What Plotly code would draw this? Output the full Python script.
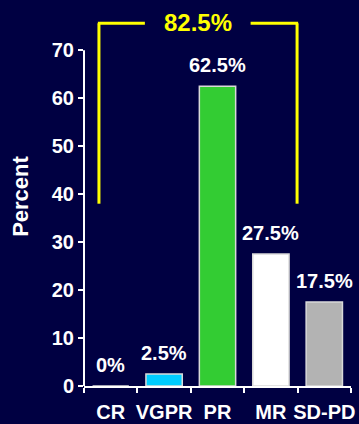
import plotly.graph_objects as go

# Response categories and share of patients (%)
categories = ["CR", "VGPR", "PR", "MR", "SD-PD"]
percent = [0, 2.5, 62.5, 27.5, 17.5]
bar_colors = ["#00CCFF", "#00CCFF", "#33CC33", "#FFFFFF", "#B3B3B3"]
y_ticks = [0, 10, 20, 30, 40, 50, 60, 70]
overall_label = "82.5%"

BG = "#000042"
WHITE = "#FFFFFF"
YELLOW = "#FFFF00"
FONT = "Liberation Sans, Arial, sans-serif"

fig = go.Figure(
    go.Bar(
        x=categories,
        y=percent,
        marker=dict(color=bar_colors, line=dict(color="#D9D9D9", width=1.5)),
        width=0.68,
        hoverinfo="skip",
    )
)

# value labels above each bar
for cat, val in zip(categories, percent):
    fig.add_annotation(
        x=cat, y=val, text=f"{val:g}%", showarrow=False,
        yanchor="bottom", yshift=8,
        font=dict(family=FONT, size=20, color=WHITE, weight="bold"),
    )

# y-axis line drawn only up to the top tick
fig.add_shape(type="line", xref="paper", yref="y", x0=0, x1=0,
              y0=0, y1=max(y_ticks), line=dict(color=WHITE, width=2))

# yellow bracket grouping the responders
br_left, br_right = -0.22, 3.49
br_bottom, br_top = 38, 75.6
gap_left, gap_right = 0.64, 2.62
bracket = dict(color=YELLOW, width=3)
fig.add_shape(type="line", xref="x", yref="y", x0=br_left, x1=br_left,
              y0=br_bottom, y1=br_top, line=bracket)
fig.add_shape(type="line", xref="x", yref="y", x0=br_right, x1=br_right,
              y0=br_bottom, y1=br_top, line=bracket)
fig.add_shape(type="line", xref="x", yref="y", x0=br_left - 0.02, x1=gap_left,
              y0=br_top, y1=br_top, line=bracket)
fig.add_shape(type="line", xref="x", yref="y", x0=gap_right, x1=br_right + 0.02,
              y0=br_top, y1=br_top, line=bracket)
fig.add_annotation(
    x=(gap_left + gap_right) / 2, y=br_top, text=overall_label, showarrow=False,
    yanchor="middle", yshift=1,
    font=dict(family=FONT, size=24, color=YELLOW, weight="bold"),
)

fig.update_layout(
    width=359, height=424,
    margin=dict(l=84, r=8, t=7, b=38),
    paper_bgcolor=BG, plot_bgcolor=BG,
    showlegend=False,
    bargap=0.32,
    font=dict(family=FONT, color=WHITE),
    xaxis=dict(
        type="category", range=[-0.5, 4.5], automargin=False, tickangle=0,
        showline=True, linecolor=WHITE, linewidth=2,
        ticks="outside", tickson="boundaries", ticklen=5, tickwidth=2, tickcolor=WHITE,
        ticklabelstandoff=7,
        tickfont=dict(family=FONT, size=20, color=WHITE, weight="bold"),
        showgrid=False, zeroline=False,
    ),
    yaxis=dict(
        range=[0, 79], showline=False, automargin=False,
        tickvals=y_ticks, ticks="outside", ticklen=5, tickwidth=2, tickcolor=WHITE,
        tickfont=dict(family=FONT, size=20, color=WHITE, weight="bold"),
        showgrid=False, zeroline=False,
        title=dict(text="Percent", standoff=17,
                   font=dict(family=FONT, size=22, color=WHITE, weight="bold")),
    ),
)

fig.write_html("out.html")
